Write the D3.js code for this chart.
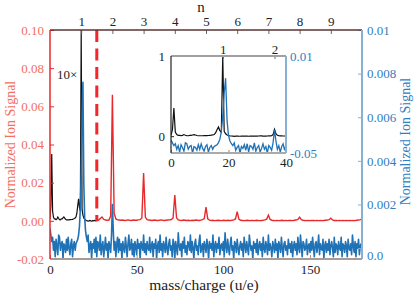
<!DOCTYPE html>
<html>
<head>
<meta charset="utf-8">
<script src="https://cdn.jsdelivr.net/npm/d3@7"></script>
<style>
  body { margin: 0; background: #fff; }
  svg { display: block; }
</style>
</head>
<body>
<svg width="415" height="296">
  <text x="204" y="290" text-anchor="middle" font-family="Liberation Serif" font-size="15.5" fill="#222">mass/charge (u/e)</text>
  <text x="201" y="12" text-anchor="middle" font-family="Liberation Serif" font-size="15" fill="#222">n</text>
  <text transform="translate(15,144.5) rotate(-90)" text-anchor="middle" font-family="Liberation Serif" font-size="14" fill="#f2705f">Normalized Ion Signal</text>
  <text transform="translate(410,141.5) rotate(-90)" text-anchor="middle" font-family="Liberation Serif" font-size="14" fill="#2f80c2">Normalized Ion Signal</text>
  <text x="57" y="79" font-family="Liberation Serif" font-size="13" fill="#222">10×</text>
</svg>
<script>
// ---- data ----
// normalized signal used in the inset, mass 0..40 in steps of 0.5
const insetBlack = [
  0.01, 0.08, 0.35, 0.05, 0.02, 0.01, 0.01, 0.006, 0.01, 0.02, 0.012, 0.006, 0.005, 0.01, 0.01, 0.015, 0.02, 0.014, 0.008, 0.005,
  0.005, 0.005, 0.005, 0.006, 0.006, 0.007, 0.008, 0.01, 0.012, 0.015, 0.02, 0.04, 0.08, 0.115, 0.07, 0.05, 1.0, 0.06, 0.03, 0.015,
  0.008, 0.004, 0.002, 0.0, -0.002, 0.0, 0.002, 0.0, -0.001, 0.001, 0.0, 0.002, 0.001, 0.0, -0.001, 0.001, 0.002, 0.0, 0.001, 0.0,
  0.001, 0.002, 0.004, 0.003, 0.001, 0.0, 0.001, 0.002, 0.003, 0.004, 0.006, 0.02, 0.085, 0.03, 0.012, 0.006, 0.004, 0.003, 0.002, 0.002,
  0.002
];
const blackScale = 0.1;   // main panel shows the inset trace at 1/10
const blackEnd = 27;      // black trace stops at the dashed line

// red trace (10x), integer masses 27..180, in units of 1e-3
const redStart = 27;
const redSignal = [
  0.0, 0.4, 1.2, 2.0, 0.8, 0.4, 0.3, 0.4, 2.5, 66, 4, 1.0, 0.5, 0.4,            // 27-40
  0.3, 0.4, 0.2, 0.3, 0.5, 0.3, 0.2, 0.4, 0.3, 0.3, 0.5, 0.6,                   // 41-52
  1.5, 25, 2.0, 0.6,                                                            // 53-56
  0.4, 0.3, 0.2, 0.4, 0.3, 0.2, 0.3, 0.5, 0.3, 0.2, 0.3, 0.4, 0.5, 0.7,         // 57-70
  1.5, 13.5, 1.6, 0.5,                                                          // 71-74
  0.3, 0.2, 0.4, 0.3, 0.2, 0.3, 0.1, 0.3, 0.2, 0.4, 0.3, 0.2, 0.4, 0.6,         // 75-88
  1.2, 7.2, 1.0, 0.4,                                                           // 89-92
  0.2, 0.3, 0.1, 0.2, 0.3, 0.2, 0.1, 0.3, 0.2, 0.2, 0.3, 0.1, 0.3, 0.5,         // 93-106
  1.0, 4.8, 0.8, 0.3,                                                           // 107-110
  0.2, 0.1, 0.2, 0.3, 0.1, 0.2, 0.2, 0.1, 0.3, 0.2, 0.1, 0.2, 0.3, 0.5,         // 111-124
  0.9, 3.0, 0.7, 0.3,                                                           // 125-128
  0.2, 0.1, 0.2, 0.1, 0.2, 0.3, 0.1, 0.2, 0.1, 0.2, 0.2, 0.1, 0.3, 0.4,         // 129-142
  0.7, 1.9, 0.6, 0.3,                                                           // 143-146
  0.2, 0.1, 0.2, 0.1, 0.2, 0.2, 0.1, 0.2, 0.1, 0.2, 0.1, 0.2, 0.3, 0.4,         // 147-160
  0.6, 1.4, 0.5, 0.2,                                                           // 161-164
  0.2, 0.1, 0.2, 0.1, 0.2, 0.1, 0.2, 0.1, 0.2, 0.1, 0.2, 0.1, 0.3, 0.4,         // 165-178
  0.6, 0.9                                                                      // 179-180
];
const redUnit = 1e-3;

// blue trace (right axis), mass 0..180 in steps of 0.5, in units of 1e-4
const blueSignal = [
  9, 6, 3, 5, -1, 3, -4, 4, 1, -3, 6, 5, -1, 2, 3, -5, 2, 1, -2, 4,
  -1, 5, 0, -3, 2, 4, -4, 1, 3, -1, 2, 3, 4, 6, 10, 18, 35, 60, 76, 30,
  14, 8, 5, 3, 6, -2, 1, 3, -5, 2, 0, 4, -2, 5, -4, 3, 2, -1, 6, -3,
  1, 3, -4, 0, 5, -1, 2, -5, 3, 1, -2, 6, 20, 8, -1, 3, -4, 2, 5, -2,
  4, -1, 2, -5, 3, 0, -2, 5, 1, -4, 2, 6, -1, 0, 4, -3, 2, -4, 3, 1,
  -3, 4, 0, 2, -5, 3, 1, -1, 6, -2, 2, -3, 3, 0, -1, 5, -2, 1, 3, -4,
  2, 0, 4, -5, 1, 3, -2, 6, -1, 2, -4, 3, 1, -2, 5, 0, -3, 2, 4, -1,
  1, -4, 4, 2, -5, 3, 0, -3, 7, 1, -1, 2, -4, 3, 0, 5, -2, 1, -3, 3,
  2, -1, 6, -2, 3, 0, -5, 2, 4, -1, 1, -3, 3, 6, -2, 0, 2, -4, 3, 1,
  -2, 4, 1, -5, 3, 0, 2, -1, 6, -4, 1, 3, -2, 2, 0, 5, -3, 1, 2, -1,
  3, -4, 7, 1, -2, 4, 0, -3, 2, 5, -1, 1, -5, 3, 2, -2, 4, 0, -3, 1,
  3, -1, 2, -4, 5, 1, -2, 3, 0, -3, 6, 2, -1, 1, -5, 3, 0, 2, -2, 4,
  -3, 1, 3, -1, 2, -4, 5, 0, -2, 3, 1, -3, 6, -1, 2, 0, -4, 3, 1, -2,
  4, -1, 2, -5, 3, 1, -2, 5, 0, -4, 2, 3, -1, 1, -3, 4, 0, 2, -2, 3,
  -4, 1, 3, -1, 2, -3, 5, 0, -2, 6, 1, -4, 3, 2, -1, 0, 4, -3, 1, 2,
  -2, 3, -1, 5, 0, -4, 2, 3, -2, 1, 6, -3, 2, 0, -1, 4, -5, 1, 3, -2,
  2, -1, 4, -3, 1, 3, 0, -4, 5, -2, 2, 1, -3, 3, 0, -1, 5, -4, 2, 1,
  -2, 3, 1, -4, 4, 0, -1, 2, -3, 6, 1, -2, 3, -4, 2, 0, 4, -3, 1, 2,
  -1
];
const blueUnit = 1e-4;
const massStep = 0.5;

// ticks
const bottomTicks = [0, 50, 100, 150];
const topTicks = [1, 2, 3, 4, 5, 6, 7, 8, 9];          // n, mass = 18 n
const leftTicks = [-0.02, 0, 0.02, 0.04, 0.06, 0.08, 0.10];
const rightTicks = [0, 0.002, 0.004, 0.006, 0.008, 0.01];
const rightTickLabels = ["0.0", "0.002", "0.004", "0.006", "0.008", "0.01"];
const insetBottomTicks = [0, 20, 40];
const insetTopTicks = [1, 2];
const insetLeftTicks = [0, 1];
const insetRightTicks = [-0.0005, 0.01];
const insetRightLabels = ["-0.05", "0.01"];

// ---- colours ----
const cRed = "#e8292b", cRedText = "#f2705f", cBlue = "#1f72b6", cBlueText = "#2f80c2",
      cBlueAxis = "#88b0d2", cTop = "#5a3535", cBottom = "#a89a94";
const font = "Liberation Serif";

const svg = d3.select("svg");
const L = 50, R = 362, T = 30, B = 259;

const x = d3.scaleLinear().domain([0, 180]).range([L, R]);
const xn = d3.scaleLinear().domain([0, 10]).range([L, R]);
const yL = d3.scaleLinear().domain([-0.02, 0.10]).range([B, T]);
const yR = d3.scaleLinear().domain([-0.0005, 0.01]).range([B, T]);

const fmtL = d => d3.format(".2f")(d).replace("−", "-");

svg.append("clipPath").attr("id", "clipMain")
  .append("rect").attr("x", L).attr("y", T).attr("width", R - L).attr("height", B - T);

const plot = svg.append("g").attr("clip-path", "url(#clipMain)");

// black trace
const blackPts = insetBlack.map((v, i) => [i * massStep, v * blackScale]).filter(d => d[0] <= blackEnd);
plot.append("path")
  .datum(blackPts)
  .attr("fill", "none").attr("stroke", "#111").attr("stroke-width", 1.2)
  .attr("d", d3.line().x(d => x(d[0])).y(d => yL(d[1])));

// red trace
const redPts = redSignal.map((v, i) => [redStart + i, v * redUnit]);
plot.append("path")
  .datum(redPts)
  .attr("fill", "none").attr("stroke", cRed).attr("stroke-width", 1.4)
  .attr("d", d3.line().x(d => x(d[0])).y(d => yL(d[1])));

// blue trace
const bluePts = blueSignal.map((v, i) => [i * massStep, v * blueUnit]);
plot.append("path")
  .datum(bluePts)
  .attr("fill", "none").attr("stroke", cBlue).attr("stroke-width", 1.6)
  .attr("stroke-linejoin", "round")
  .attr("d", d3.line().x(d => x(d[0])).y(d => yR(d[1])));

// dashed divider
plot.append("line")
  .attr("x1", x(blackEnd)).attr("x2", x(blackEnd))
  .attr("y1", yL(0.10)).attr("y2", yL(0))
  .attr("stroke", "#f2262b").attr("stroke-width", 3)
  .attr("stroke-dasharray", "12,6.5");

// ---- axes ----
function styleAxis(g, lineColor, textColor) {
  g.attr("font-family", font).attr("font-size", 13);
  g.select(".domain").remove();
  g.selectAll(".tick line").attr("stroke", lineColor);
  g.selectAll(".tick text").attr("fill", textColor).attr("font-family", font);
}

const gLeft = svg.append("g").attr("transform", `translate(${L},0)`)
  .call(d3.axisLeft(yL).tickValues(leftTicks).tickFormat(fmtL).tickSize(-4).tickPadding(6));
styleAxis(gLeft, cRed, cRedText);

const gRight = svg.append("g").attr("transform", `translate(${R},0)`)
  .call(d3.axisRight(yR).tickValues(rightTicks).tickFormat((d, i) => rightTickLabels[i]).tickSize(-4).tickPadding(5));
styleAxis(gRight, cBlueAxis, cBlueText);
gRight.selectAll(".tick text").filter(d => d === 0).attr("dy", "0.85em");

const gBottom = svg.append("g").attr("transform", `translate(0,${B})`)
  .call(d3.axisBottom(x).tickValues(bottomTicks).tickFormat(d3.format("d")).tickSize(-4).tickPadding(6));
styleAxis(gBottom, cBottom, "#222");

const gTop = svg.append("g").attr("transform", `translate(0,${T})`)
  .call(d3.axisTop(xn).tickValues(topTicks).tickFormat(d3.format("d")).tickSize(-4).tickPadding(4));
styleAxis(gTop, "#666", "#222");

// frame lines
svg.append("line").attr("x1", L).attr("x2", R).attr("y1", B).attr("y2", B)
  .attr("stroke", cBottom).attr("stroke-width", 2);
svg.append("line").attr("x1", L).attr("x2", R).attr("y1", T).attr("y2", T)
  .attr("stroke", cTop).attr("stroke-width", 1.5);
svg.append("line").attr("x1", L).attr("x2", L).attr("y1", T).attr("y2", B)
  .attr("stroke", cRed).attr("stroke-width", 1.5);
svg.append("line").attr("x1", R).attr("x2", R).attr("y1", T).attr("y2", B)
  .attr("stroke", cBlueAxis).attr("stroke-width", 2);

// ---- inset ----
const iL = 171, iR = 286, iT = 56, iB = 153;
const xi = d3.scaleLinear().domain([0, 40]).range([iL, iR]);
const xin = d3.scaleLinear().domain([0, 40 / 18]).range([iL, iR]);
const yiL = d3.scaleLinear().domain([-0.21, 1]).range([iB, iT]);
const yiR = d3.scaleLinear().domain([-0.0005, 0.01]).range([iB, iT]);

svg.append("rect").attr("x", iL).attr("y", iT).attr("width", iR - iL).attr("height", iB - iT)
  .attr("fill", "#fff");
svg.append("clipPath").attr("id", "clipInset")
  .append("rect").attr("x", iL).attr("y", iT).attr("width", iR - iL).attr("height", iB - iT);
const inset = svg.append("g").attr("clip-path", "url(#clipInset)");

inset.append("path")
  .datum(insetBlack.map((v, i) => [i * massStep, v]))
  .attr("fill", "none").attr("stroke", "#111").attr("stroke-width", 1.2)
  .attr("d", d3.line().x(d => xi(d[0])).y(d => yiL(d[1])));
inset.append("path")
  .datum(bluePts.filter(d => d[0] <= 40))
  .attr("fill", "none").attr("stroke", cBlue).attr("stroke-width", 1.3)
  .attr("d", d3.line().x(d => xi(d[0])).y(d => yiR(d[1])));

const giB = svg.append("g").attr("transform", `translate(0,${iB})`)
  .call(d3.axisBottom(xi).tickValues(insetBottomTicks).tickFormat(d3.format("d")).tickSize(-3).tickPadding(5));
styleAxis(giB, "#888", "#222");
const giT = svg.append("g").attr("transform", `translate(0,${iT})`)
  .call(d3.axisTop(xin).tickValues(insetTopTicks).tickFormat(d3.format("d")).tickSize(-3).tickPadding(2));
styleAxis(giT, "#666", "#222");
const giL = svg.append("g").attr("transform", `translate(${iL},0)`)
  .call(d3.axisLeft(yiL).tickValues(insetLeftTicks).tickFormat(d3.format("d")).tickSize(-3).tickPadding(6));
styleAxis(giL, "#222", "#222");
const giR = svg.append("g").attr("transform", `translate(${iR},0)`)
  .call(d3.axisRight(yiR).tickValues(insetRightTicks).tickFormat((d, i) => insetRightLabels[i]).tickSize(-3).tickPadding(4));
styleAxis(giR, cBlueAxis, cBlueText);

svg.append("line").attr("x1", iL).attr("x2", iR).attr("y1", iT).attr("y2", iT)
  .attr("stroke", "#a0a0a0").attr("stroke-width", 2);
svg.append("line").attr("x1", iL).attr("x2", iR).attr("y1", iB).attr("y2", iB)
  .attr("stroke", "#aaa").attr("stroke-width", 2);
svg.append("line").attr("x1", iL).attr("x2", iL).attr("y1", iT).attr("y2", iB)
  .attr("stroke", "#222").attr("stroke-width", 1.2);
svg.append("line").attr("x1", iR).attr("x2", iR).attr("y1", iT).attr("y2", iB)
  .attr("stroke", cBlueAxis).attr("stroke-width", 2);
</script>
</body>
</html>
